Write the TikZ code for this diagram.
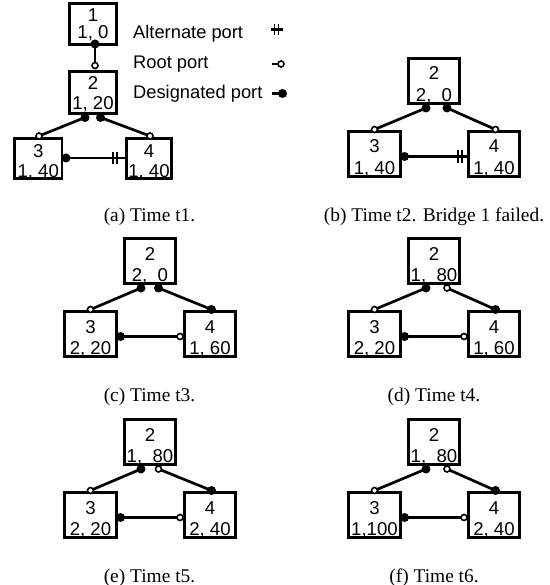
\documentclass[tikz,border=0pt]{standalone}
\usepackage{fontspec}
\setmainfont{Liberation Serif}
\newfontfamily\sansf{Liberation Sans}
\pgfdeclarelayer{links}
\pgfsetlayers{links,main}
\tikzset{
  box/.style={draw, line width=2.8pt, inner sep=0pt, minimum width=51.5pt, minimum height=45.5pt},
  lbl/.style={font=\sansf\fontsize{18.6}{20}\selectfont, inner sep=0pt, anchor=base},
  legtxt/.style={font=\sansf\fontsize{18.3}{20}\selectfont, inner sep=0pt, anchor=base west},
  captxt/.style={font=\fontsize{19.4}{22}\selectfont, inner sep=0pt, anchor=base},
  desig/.style={circle, fill=black, inner sep=0pt, minimum size=9pt},
  rootp/.style={circle, draw, fill=white, line width=1.6pt, inner sep=0pt, minimum size=6pt},
  link/.style={line width=2.7pt},
  hlink/.style={line width=2.3pt},
  bar/.style={line width=1.8pt},
}
% name, cx, cy, line1, line2, extra style, dy1, dy2
\newcommand\brg[8]{%
  \node[box,#6] (#1) at (#2,#3) {};
  \node[lbl] (#1-a) at (#2,#3+#7) {#4};
  \node[lbl] (#1-b) at (#2,#3+#8) {#5};
}
\newcommand\altend[3]{%
  \coordinate (#1-p4l) at (#2+33,#3+75.5);
  \begin{pgfonlayer}{links}
  \draw[hlink] (#1-p3r.center) -- (#1-p4l);
  \end{pgfonlayer}
  \draw[bar] (#2+24,#3+69) -- (#2+24,#3+82);
  \draw[bar] (#2+28,#3+69) -- (#2+28,#3+82);
}
\newcommand\rootend[3]{%
  \node[rootp] (#1-p4l) at (#2+30,#3+75.5) {};
  \begin{pgfonlayer}{links}
  \draw[hlink] (#1-p3r.center) -- (#1-p4l.center);
  \end{pgfonlayer}
}
% prefix, col x, top y, b2 line2, b3 line2, b4 line2, b2 right port, b4 top port, end macro
\newcommand\panel[9]{%
  \brg{#1-2}{#2}{#3}{2}{#4}{}{-1}{20.5}
  \brg{#1-3}{#2-59.5}{#3+73}{3}{#5}{}{-1}{20.5}
  \brg{#1-4}{#2+60}{#3+73}{4}{#6}{}{-1}{20.5}
  \node[desig] (#1-p2l) at (#2+\ldx,#3+27) {};
  \node[#7] (#1-p2r) at (#2+\rdx,#3+27) {};
  \node[rootp] (#1-p3t) at (#2-59.5,#3+48.5) {};
  \node[#8] (#1-p4t) at (#2+61.5,#3+48.5) {};
  \node[desig] (#1-p3r) at (#2-29.5,#3+75.5) {};
  \begin{pgfonlayer}{links}
  \draw[link] (#1-p2l.center) -- (#1-p3t.center);
  \draw[link] (#1-p2r.center) -- (#1-p4t.center);
  \end{pgfonlayer}
  #9{#1}{#2}{#3}
}
\begin{document}
\begin{tikzpicture}[x=1pt,y=-1pt]
\useasboundingbox (0,0) rectangle (549,585);

% ---------- panel (a) ----------
\brg{a-1}{93}{23.75}{1}{1, 0}{minimum width=47.5pt, minimum height=41pt}{-2.25}{15.25}
\brg{a-2}{93}{92.5}{2}{1, 20}{minimum width=47.5pt, minimum height=42.5pt}{-2.5}{17.5}
\brg{a-3}{38.25}{158.5}{3}{1, 40}{minimum width=47.5pt, minimum height=40.5pt}{-1}{19}
\brg{a-4}{149}{158.5}{4}{1, 40}{minimum width=45.5pt, minimum height=40.5pt}{-1}{19}
\node[desig] (a-p1b) at (95,44) {};
\node[rootp] (a-p2t) at (95,65.5) {};
\node[desig] (a-p2l) at (85,117.5) {};
\node[desig] (a-p2r) at (100.5,117.5) {};
\node[rootp] (a-p3t) at (39,136) {};
\node[rootp] (a-p4t) at (150,136) {};
\node[desig] (a-p3r) at (66,158) {};
\coordinate (a-p4l) at (125,158);
\begin{pgfonlayer}{links}
\draw[link] (a-p1b.center) -- (a-p2t.center);
\draw[link] (a-p2l.center) -- (a-p3t.center);
\draw[link] (a-p2r.center) -- (a-p4t.center);
\draw[hlink] (a-p3r.center) -- (a-p4l);
\end{pgfonlayer}
\draw[bar] (113,152) -- (113,164);
\draw[bar] (117,152) -- (117,164);

% legend
\node[legtxt] (l-alt) at (133,39) {Alternate port};
\node[legtxt] (l-root) at (133,68.5) {Root port};
\node[legtxt] (l-des) at (133,98.5) {Designated port};
\coordinate (la-s) at (271,29.5);
\coordinate (la-e) at (283,29.5);
\draw[hlink] (la-s) -- (la-e);
\draw[bar] (274.5,24) -- (274.5,35);
\draw[bar] (278.5,24) -- (278.5,35);
\coordinate (lr-s) at (271.5,64);
\node[rootp] (lr-p) at (281,64) {};
\begin{pgfonlayer}{links}
\draw[hlink] (lr-s) -- (lr-p.center);
\end{pgfonlayer}
\coordinate (ld-s) at (271.5,93.5);
\node[desig] (ld-p) at (282.5,93.5) {};
\begin{pgfonlayer}{links}
\draw[hlink] (ld-s) -- (ld-p.center);
\end{pgfonlayer}

% ---------- panels (b)-(f) ----------
\def\ldx{-8}\def\rdx{13}
\panel{b}{434}{81}{2,\ \ 0}{1, 40}{1, 40}{desig}{rootp}{\altend}
\def\ldx{-9}\def\rdx{8.5}
\panel{c}{150}{261}{2,\ \ 0}{2, 20}{1, 60}{desig}{desig}{\rootend}
\def\ldx{-8}\def\rdx{13}
\panel{d}{434}{261}{1,\ \ 80}{2, 20}{1, 60}{rootp}{desig}{\rootend}
\def\ldx{-9}\def\rdx{8.5}
\panel{e}{150}{442}{1,\ \ 80}{2, 20}{2, 40}{rootp}{desig}{\rootend}
\def\ldx{-8}\def\rdx{13}
\panel{f}{434}{442}{1,\ \ 80}{1,100}{2, 40}{rootp}{desig}{\rootend}

% captions
\node[captxt] (cap-a) at (149.5,221) {(a) Time t1.};
\node[captxt] (cap-b) at (434,221) {(b) Time t2. Bridge 1 failed.};
\node[captxt] (cap-c) at (149.5,401) {(c) Time t3.};
\node[captxt] (cap-d) at (434,401) {(d) Time t4.};
\node[captxt] (cap-e) at (149.5,582) {(e) Time t5.};
\node[captxt] (cap-f) at (434,582) {(f) Time t6.};
\end{tikzpicture}
\end{document}
